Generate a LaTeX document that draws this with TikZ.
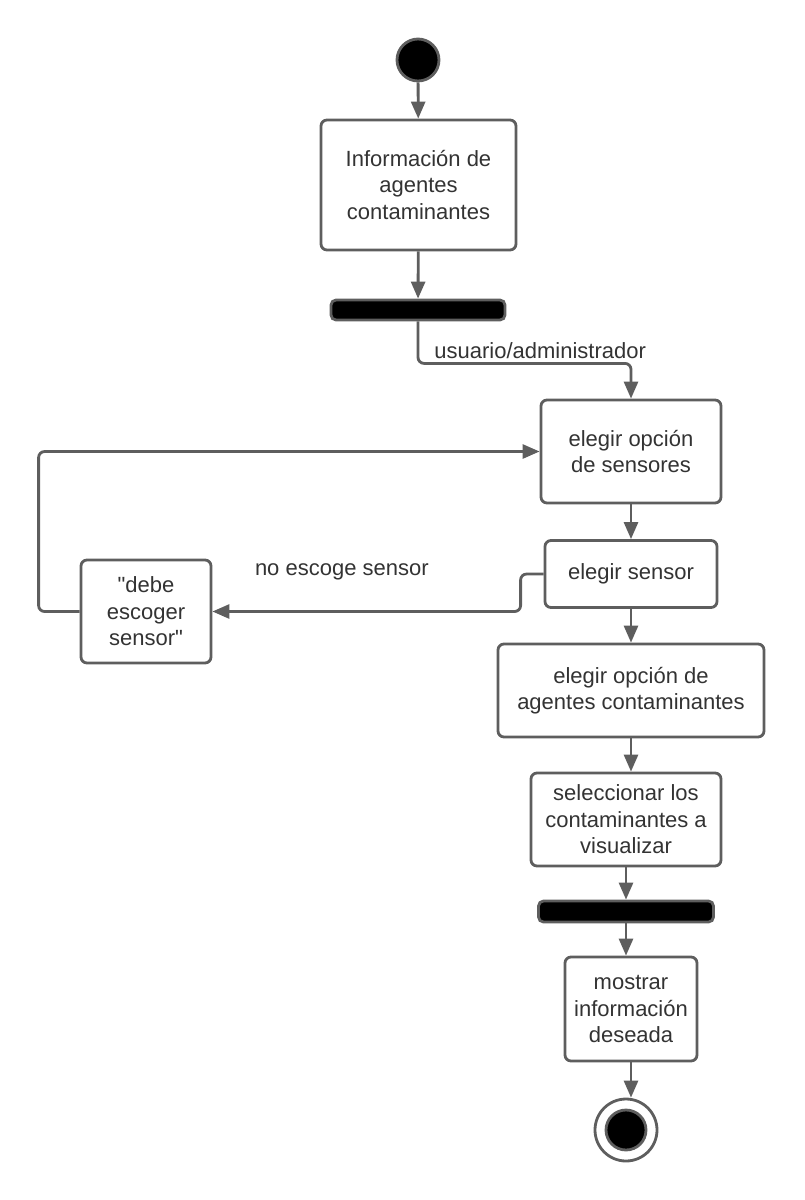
\documentclass[tikz,border=0pt]{standalone}
\usepackage{fontspec}
\setmainfont{Liberation Sans}
\usetikzlibrary{arrows.meta}
\definecolor{linea}{HTML}{5E5E5E}
\definecolor{texto}{HTML}{333333}
\tikzset{
    every node/.style={align=center,text=texto,font=\fontsize{22}{26.5}\selectfont},
    actividad/.style={draw=linea,line width=2.8pt,rectangle,rounded corners=6pt,fill=white},
    barra/.style={draw=linea,line width=2.8pt,rectangle,rounded corners=5pt,fill=black,inner sep=0pt},
    inicio/.style={draw=linea,line width=2.8pt,circle,fill=black,inner sep=0pt,minimum size=42pt},
    flecha/.style={draw=linea,line width=2.8pt,-{Triangle[width=14pt,length=17pt]},rounded corners=6pt},
    etiqueta/.style={inner sep=0pt},
}

\begin{document}
\begin{tikzpicture}[x=1pt,y=-1pt]
                \useasboundingbox (0,0) rectangle (804,1200);

                \node[inicio] (inicio) at (418,60) {};
                \node[actividad,minimum width=195,minimum height=130] (info) at (418.5,185) {Información de\\agentes\\contaminantes};
                \node[barra,minimum width=174,minimum height=20] (fork) at (418,310) {};

                \node[actividad,minimum width=180,minimum height=103] (opcionsens) at (631,451.5) {elegir opción\\de sensores};
                \node[actividad,minimum width=172,minimum height=67] (sensor) at (631,574) {elegir sensor};
                \node[actividad,minimum width=130,minimum height=103] (debe) at (146,611.5) {\textquotedbl debe\\escoger\\sensor\textquotedbl};

                \node[actividad,minimum width=266,minimum height=93] (opcionag) at (631,690.5) {elegir opción de\\agentes contaminantes};
                \node[actividad,minimum width=190,minimum height=93] (selec) at (626,819.5) {seleccionar los\\contaminantes a\\visualizar};
                \node[barra,minimum width=175,minimum height=21] (join) at (626,911.5) {};
                \node[actividad,minimum width=132,minimum height=104] (mostrar) at (631,1009) {mostrar\\información\\deseada};

                \node[draw=linea,line width=2.8pt,circle,fill=white,minimum size=62pt] (fin) at (626,1130) {};
                \node[inicio,minimum size=40pt] (fininterior) at (fin.center) {};

                \draw[flecha] (inicio) -- (info);
                \draw[flecha] (info) -- (fork);
                \draw[flecha] (fork.south) -- node[etiqueta,anchor=base west,pos=1,xshift=15,yshift=5] {usuario/administrador} ++(0,42) -| (opcionsens.north);

                \draw[flecha] (opcionsens) -- (sensor);
                \draw[flecha] (sensor.west) -- ++(-23,0) |- node[etiqueta,anchor=base,pos=0.79,yshift=36] {no escoge sensor} (debe.east);
                \draw[flecha] (debe.west) -- ++(-41,0) |- (opcionsens.west);

                \draw[flecha] (sensor) -- (opcionag);
                \draw[flecha] (opcionag.south) -- (opcionag.south |- selec.north);
                \draw[flecha] (selec.south) -- (selec.south |- join.north);
                \draw[flecha] (join.south) -- (join.south |- mostrar.north);
                \draw[flecha] (mostrar.south) -- (mostrar.south |- fin.north);
            \end{tikzpicture}
\end{document}
